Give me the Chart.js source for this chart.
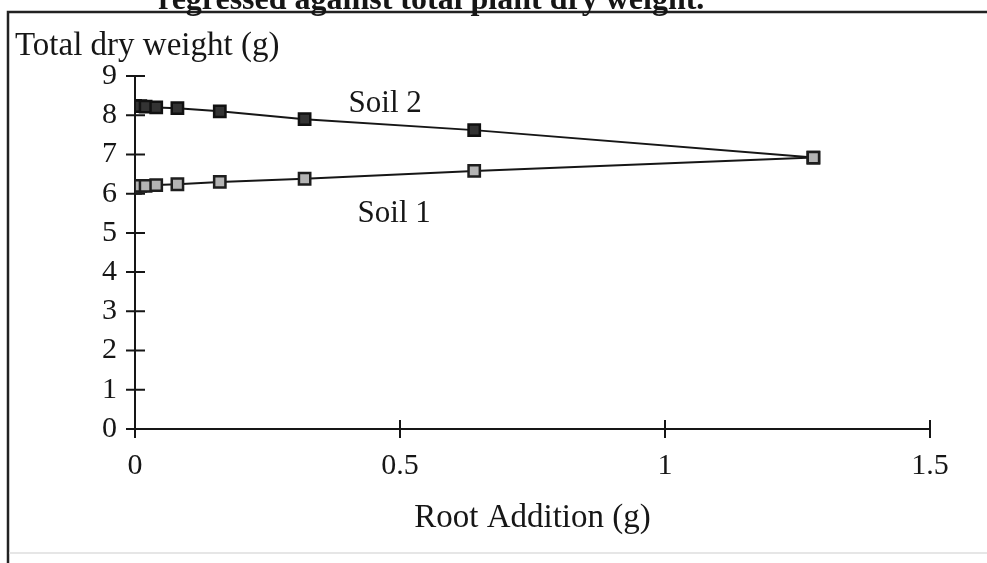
<!DOCTYPE html>
<html>
<head>
<meta charset="utf-8">
<script src="https://cdn.jsdelivr.net/npm/chart.js@4.4.1/dist/chart.umd.min.js"></script>
<style>
  html, body { margin: 0; padding: 0; background: #fff; }
  #wrap { width: 987px; height: 563px; position: relative; }
</style>
</head>
<body>
<div id="wrap"><canvas id="cvs"></canvas></div>
<script>
// root addition levels (g)
const rootAddition = [0, 0.01, 0.02, 0.04, 0.08, 0.16, 0.32, 0.64, 1.28];
// total dry weight (g)
const soil1 = [6.15, 6.2, 6.2, 6.22, 6.24, 6.3, 6.38, 6.58, 6.92];
const soil2 = [8.24, 8.23, 8.22, 8.2, 8.18, 8.1, 7.9, 7.62, 6.92];

const xTicks = [0, 0.5, 1, 1.5];
const yTicks = [0, 1, 2, 3, 4, 5, 6, 7, 8, 9];

const titleText = 'regressed against total plant dry weight.';
const yTitle = 'Total dry weight (g)';
const xTitle = 'Root Addition (g)';

// series names, placed in data units
const seriesLabels = [
    { text: 'Soil 2', x: 0.472, y: 8.29 },
    { text: 'Soil 1', x: 0.489, y: 5.49 }
];

const serif = 'Liberation Serif';
const ink = '#161616';

/*==========| plot box |========== */
const plotLeft = 135;
const plotRight = 930;
const plotTop = 76;
const yAxisW = 40;
const xAxisH = 109;
const bottomPad = 25;

const toPoints = (ys) => rootAddition.map((x, i) => ({ x: x, y: ys[i] }));

/*==========| frame, titles, crossing tick marks |========== */
const decor = {
    id: 'decor',
    beforeDraw(chart) {
        const c = chart.ctx;
        c.save();
        c.fillStyle = '#fff';
        c.fillRect(0, 0, chart.width, chart.height);
        c.restore();
    },
    beforeDatasetsDraw(chart) {
        const c = chart.ctx;
        const xs = chart.scales.x;
        const ys = chart.scales.y;
        c.save();
        c.strokeStyle = ink;
        c.lineWidth = 2;
        const x0 = xs.getPixelForValue(0);
        const y0 = ys.getPixelForValue(0);
        c.beginPath();
        yTicks.forEach(v => {
            const py = ys.getPixelForValue(v);
            c.moveTo(x0 - 9, py);
            c.lineTo(x0 + 10, py);
        });
        xTicks.forEach(v => {
            const px = xs.getPixelForValue(v);
            c.moveTo(px, y0 - 9);
            c.lineTo(px, y0 + 9);
        });
        c.moveTo(x0, ys.getPixelForValue(9));
        c.lineTo(x0, y0);
        c.lineTo(xs.getPixelForValue(1.5), y0);
        c.stroke();
        c.restore();
    },
    afterDraw(chart) {
        const c = chart.ctx;
        const xs = chart.scales.x;
        const ys = chart.scales.y;
        c.save();

        // box around the plot
        c.strokeStyle = '#222';
        c.lineWidth = 2.5;
        c.beginPath();
        c.moveTo(8, 563);
        c.lineTo(8, 12);
        c.lineTo(987, 12);
        c.stroke();
        c.strokeStyle = '#dedede';
        c.lineWidth = 1.5;
        c.beginPath();
        c.moveTo(9, 553);
        c.lineTo(987, 553);
        c.stroke();

        // heading, cut off at the top
        c.fillStyle = ink;
        c.font = 'bold 32px "' + serif + '"';
        c.textAlign = 'left';
        c.textBaseline = 'alphabetic';
        c.fillText(titleText, 158, 9);

        c.font = '33px "' + serif + '"';
        c.fillText(yTitle, 15, 55);

        // series names
        c.font = '31px "' + serif + '"';
        c.textAlign = 'center';
        c.textBaseline = 'middle';
        seriesLabels.forEach(l => {
            c.fillText(l.text, xs.getPixelForValue(l.x), ys.getPixelForValue(l.y));
        });
        c.restore();
    }
};

let ctx = document.getElementById('cvs');
let chart = new Chart(ctx, {
    type: 'scatter',
    data: {
        datasets: [
            {
                label: 'Soil 1',
                data: toPoints(soil1),
                showLine: true,
                borderColor: ink,
                borderWidth: 2,
                pointStyle: 'rect',
                pointRadius: 8,
                pointBackgroundColor: '#b4b4b4',
                pointBorderColor: '#1e1e1e',
                pointBorderWidth: 2.5
            },
            {
                label: 'Soil 2',
                data: toPoints(soil2),
                showLine: true,
                borderColor: ink,
                borderWidth: 2,
                pointStyle: 'rect',
                pointRadius: 8,
                pointBackgroundColor: '#333',
                pointBorderColor: '#111',
                pointBorderWidth: 2.5
            }
        ]
    },
    options: {
        responsive: true,
        maintainAspectRatio: false,
        animation: false,
        layout: {
            padding: {
                left: plotLeft - yAxisW,
                right: 987 - plotRight,
                top: plotTop,
                bottom: bottomPad
            }
        },
        plugins: {
            legend: { display: false },
            tooltip: { enabled: false }
        },
        scales: {
            x: {
                type: 'linear',
                min: 0,
                max: 1.5,
                afterBuildTicks: (s) => { s.ticks = xTicks.map(v => ({ value: v })); },
                afterFit: (s) => { s.height = xAxisH; },
                grid: { display: false, drawTicks: false },
                border: { display: false },
                ticks: {
                    color: ink,
                    font: { family: serif, size: 30 },
                    padding: 19,
                    maxRotation: 0,
                    callback: (v) => String(v)
                },
                title: {
                    display: true,
                    text: xTitle,
                    color: ink,
                    font: { family: serif, size: 33 },
                    padding: { top: 0, bottom: 0 }
                }
            },
            y: {
                min: 0,
                max: 9,
                afterBuildTicks: (s) => { s.ticks = yTicks.map(v => ({ value: v })); },
                afterFit: (s) => { s.width = yAxisW; },
                grid: { display: false, drawTicks: false },
                border: { display: false },
                ticks: {
                    color: ink,
                    font: { family: serif, size: 30 },
                    padding: 18
                }
            }
        }
    },
    plugins: [decor]
});
</script>
</body>
</html>
